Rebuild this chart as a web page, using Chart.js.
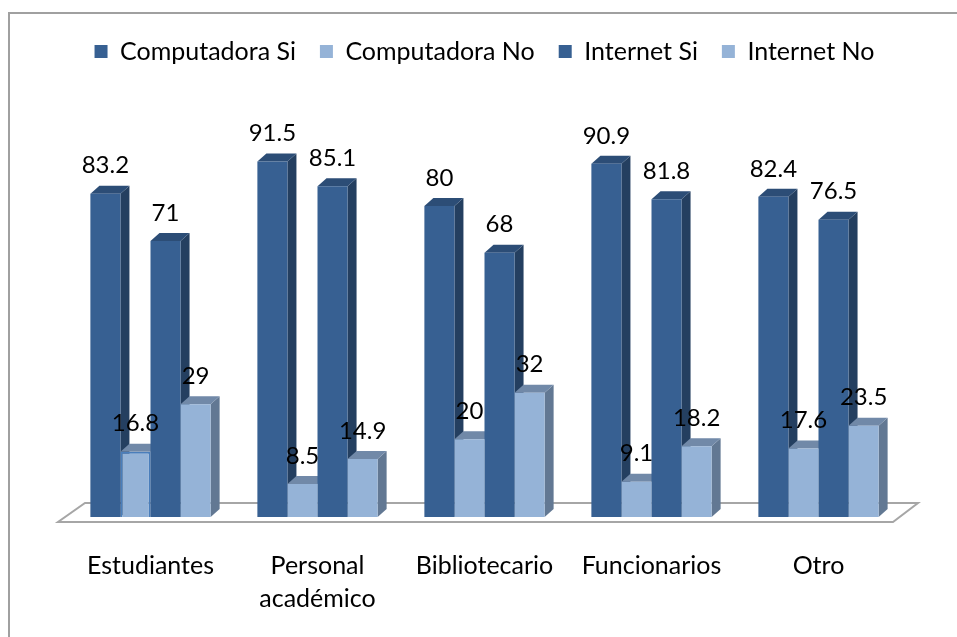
<!DOCTYPE html>
<html>
<head>
<meta charset="utf-8">
<script src="https://cdn.jsdelivr.net/npm/chart.js@4.4.0/dist/chart.umd.min.js"></script>
<style>
  body { margin: 0; background: #fff; }
</style>
</head>
<body>
<canvas id="graficaAcceso" width="957" height="637"></canvas>
<script>
const categorias = ['Estudiantes', ['Personal', 'académico'], 'Bibliotecario', 'Funcionarios', 'Otro'];
const computadoraSi = [83.2, 91.5, 80, 90.9, 82.4];
const computadoraNo = [16.8, 8.5, 20, 9.1, 17.6];
const internetSi = [71, 85.1, 68, 81.8, 76.5];
const internetNo = [29, 14.9, 32, 18.2, 23.5];

// colores: frente, arriba, lado
const oscuro = ['#376092', '#2c4d76', '#243f60'];
const claro = ['#95b3d7', '#7189a8', '#627893'];
const fuente = 'Lato, "Open Sans", sans-serif';

const PROF_X = 9, PROF_Y = 8;

const efecto3d = {
  id: 'efecto3d',
  beforeDraw(chart) {
    const ctx = chart.ctx;
    ctx.save();
    ctx.strokeStyle = '#a0a0a0';
    ctx.lineWidth = 2;
    ctx.beginPath();
    ctx.moveTo(9, 637);
    ctx.lineTo(9, 13);
    ctx.lineTo(957, 13);
    ctx.stroke();
    ctx.restore();
  },
  beforeDatasetsDraw(chart) {
    const ctx = chart.ctx;
    const a = chart.chartArea;
    ctx.save();
    // piso
    ctx.beginPath();
    ctx.moveTo(a.left - 9, a.bottom + 5);
    ctx.lineTo(a.right - 9, a.bottom + 5);
    ctx.lineTo(a.right + 16, a.bottom - 14);
    ctx.lineTo(a.left + 18, a.bottom - 14);
    ctx.closePath();
    ctx.fillStyle = '#fff';
    ctx.fill();
    ctx.strokeStyle = '#a6a6a6';
    ctx.lineWidth = 2;
    ctx.stroke();
    // lados y tapas
    chart.data.datasets.forEach((ds, i) => {
      chart.getDatasetMeta(i).data.forEach(bar => {
        const izq = bar.x - bar.width / 2, der = bar.x + bar.width / 2;
        const top = bar.y, base = bar.base;
        ctx.fillStyle = ds.colorLado;
        ctx.beginPath();
        ctx.moveTo(der, top);
        ctx.lineTo(der + PROF_X, top - PROF_Y);
        ctx.lineTo(der + PROF_X, base - PROF_Y);
        ctx.lineTo(der, base);
        ctx.closePath();
        ctx.fill();
        ctx.fillStyle = ds.colorTapa;
        ctx.beginPath();
        ctx.moveTo(izq, top);
        ctx.lineTo(izq + PROF_X, top - PROF_Y);
        ctx.lineTo(der + PROF_X, top - PROF_Y);
        ctx.lineTo(der, top);
        ctx.closePath();
        ctx.fill();
      });
    });
    ctx.restore();
  },
  afterDatasetsDraw(chart) {
    const ctx = chart.ctx;
    ctx.save();
    ctx.font = '24px ' + fuente;
    ctx.fillStyle = '#000';
    ctx.textAlign = 'center';
    ctx.textBaseline = 'middle';
    chart.data.datasets.forEach((ds, i) => {
      chart.getDatasetMeta(i).data.forEach((bar, j) => {
        ctx.fillText(String(ds.data[j]), bar.x, bar.y - 28);
      });
    });
    ctx.restore();
  }
};

function serie(nombre, datos, colores) {
  return {
    label: nombre,
    data: datos,
    backgroundColor: colores[0],
    colorTapa: colores[1],
    colorLado: colores[2],
    borderWidth: 0
  };
}

const conjuntos = [
  serie('Computadora Si', computadoraSi, oscuro),
  serie('Computadora No', computadoraNo, claro),
  serie('Internet Si', internetSi, oscuro),
  serie('Internet No', internetNo, claro)
];
// la barra seleccionada en el original
conjuntos[1].borderColor = '#4a7ebb';
conjuntos[1].borderWidth = ctx => (ctx.dataIndex === 0 && ctx.type === 'data') ? 2 : 0;

new Chart(document.getElementById('graficaAcceso').getContext('2d'), {
  type: 'bar',
  data: { labels: categorias, datasets: conjuntos },
  options: {
    responsive: false,
    animation: false,
    layout: { padding: { left: 67, right: 55, top: 15, bottom: 22 } },
    datasets: { bar: { categoryPercentage: 0.72, barPercentage: 1 } },
    plugins: {
      legend: {
        labels: {
          boxWidth: 13,
          boxHeight: 13,
          padding: 24,
          color: '#000',
          font: { family: fuente, size: 25 },
          generateLabels: chart => Chart.defaults.plugins.legend.labels.generateLabels(chart)
            .map(item => ({ ...item, lineWidth: 0 }))
        }
      },
      tooltip: { enabled: false }
    },
    scales: {
      x: {
        grid: { display: false, drawTicks: true, tickLength: 32 },
        border: { display: false },
        ticks: { padding: 0, color: '#000', maxRotation: 0, font: { family: fuente, size: 25, lineHeight: 1.32 } }
      },
      y: { display: false, min: 0, max: 114 }
    }
  },
  plugins: [efecto3d]
});
</script>
</body>
</html>
